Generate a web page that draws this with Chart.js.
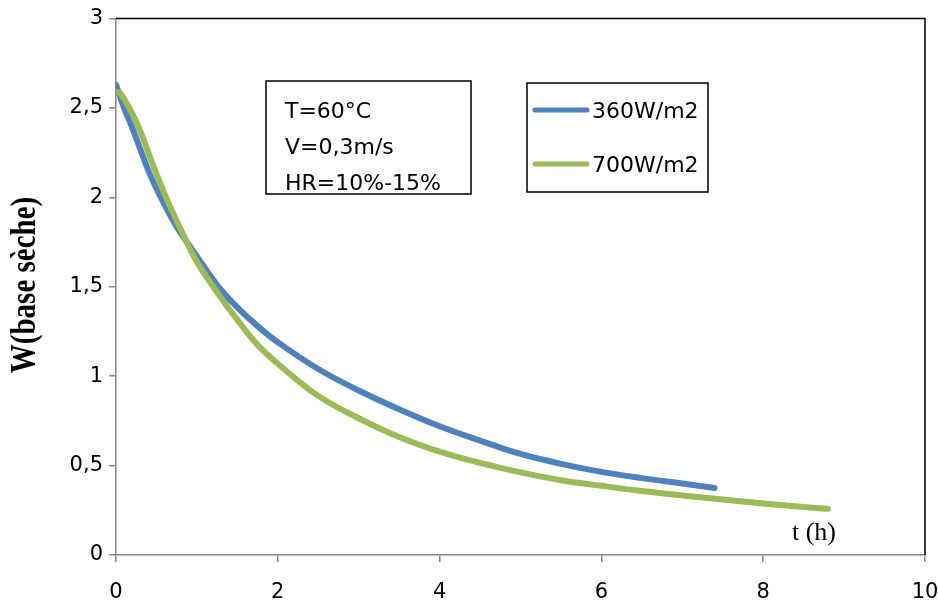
<!DOCTYPE html>
<html>
<head>
<meta charset="utf-8">
<script src="https://cdn.jsdelivr.net/npm/chart.js@4.4.0/dist/chart.umd.min.js"></script>
<style>
  body { margin: 0; background: #fff; }
  #wrap { width: 938px; height: 603px; }
</style>
</head>
<body>
<div id="wrap"><canvas id="dryingChart" width="938" height="603"></canvas></div>
<script>
// drying curves W(t)
const hours360 = [0, 0.1, 0.2, 0.3, 0.4, 0.5, 0.6, 0.7, 0.8, 0.9, 1.0, 1.25, 1.5, 1.75, 2, 2.5, 3, 3.5, 4, 4.5, 5, 5.5, 6, 6.5, 7, 7.4];
const w360 = [2.63, 2.50, 2.39, 2.27, 2.15, 2.05, 1.96, 1.875, 1.80, 1.735, 1.67, 1.51, 1.385, 1.28, 1.19, 1.04, 0.92, 0.815, 0.72, 0.64, 0.565, 0.51, 0.465, 0.43, 0.40, 0.375];

const hours700 = [0, 0.05, 0.1, 0.2, 0.3, 0.45, 0.6, 0.8, 1.0, 1.25, 1.5, 1.75, 2, 2.5, 3, 3.5, 4, 4.5, 5, 5.5, 6, 6.5, 7, 7.5, 8, 8.5, 8.8];
const w700 = [2.59, 2.582, 2.55, 2.47, 2.37, 2.19, 2.02, 1.82, 1.64, 1.47, 1.315, 1.175, 1.07, 0.89, 0.765, 0.66, 0.578, 0.515, 0.462, 0.418, 0.387, 0.358, 0.333, 0.31, 0.288, 0.268, 0.258];

const seriesLabels = ['360W/m2', '700W/m2'];
const conditions = ['T=60°C', 'V=0,3m/s', 'HR=10%-15%'];
const xTitle = 't (h)';
const yTitle = 'W(base sèche)';

const toPoints = (xs, ys) => xs.map((x, i) => ({ x, y: ys[i] }));

const sansFont = '"DejaVu Sans", sans-serif';
const serifFont = '"Liberation Serif", "DejaVu Serif", serif';

// frame, text box, legend and axis titles
const decorations = {
  id: 'decorations',
  afterDraw(chart) {
    const ctx = chart.ctx;
    const area = chart.chartArea;
    ctx.save();

    // black top / right edges
    ctx.strokeStyle = '#000';
    ctx.lineWidth = 1.5;
    ctx.beginPath();
    ctx.moveTo(area.left, area.top);
    ctx.lineTo(area.right, area.top);
    ctx.lineTo(area.right, area.bottom);
    ctx.stroke();

    // conditions box
    ctx.strokeRect(266, 81, 205, 113);
    ctx.fillStyle = '#000';
    ctx.font = '22px ' + sansFont;
    ctx.textBaseline = 'alphabetic';
    ctx.textAlign = 'left';
    conditions.forEach((t, i) => ctx.fillText(t, 285, 118 + i * 36));

    // legend
    ctx.strokeStyle = '#000';
    ctx.strokeRect(527, 83, 181, 109);
    chart.data.datasets.forEach((ds, i) => {
      const y = 110 + i * 54;
      ctx.strokeStyle = ds.borderColor;
      ctx.lineWidth = 5;
      ctx.lineCap = 'round';
      ctx.beginPath();
      ctx.moveTo(535, y);
      ctx.lineTo(587, y);
      ctx.stroke();
      ctx.fillStyle = '#000';
      ctx.fillText(ds.label, 592, y + 8);
    });

    // x title inside plot
    ctx.font = '26px ' + serifFont;
    ctx.textAlign = 'center';
    ctx.fillText(xTitle, 814, 540);

    // y title, rotated
    ctx.translate(35, 285);
    ctx.rotate(-Math.PI / 2);
    ctx.scale(1, 1.2);
    ctx.font = 'bold 29px ' + serifFont;
    ctx.fillText(yTitle, 0, 0);

    ctx.restore();
  }
};

new Chart(document.getElementById('dryingChart'), {
  type: 'line',
  data: {
    datasets: [
      {
        label: seriesLabels[0],
        data: toPoints(hours360, w360),
        borderColor: '#4F81BD',
        borderWidth: 6,
        pointRadius: 0,
        borderCapStyle: 'round',
        tension: 0.4,
        order: 2
      },
      {
        label: seriesLabels[1],
        data: toPoints(hours700, w700),
        borderColor: '#9BBB59',
        borderWidth: 6,
        pointRadius: 0,
        borderCapStyle: 'round',
        tension: 0.4,
        order: 1
      }
    ]
  },
  options: {
    responsive: false,
    animation: false,
    devicePixelRatio: 1,
    layout: { padding: { left: 0, top: 13, right: 13, bottom: 0 } },
    plugins: {
      legend: { display: false },
      tooltip: { enabled: false }
    },
    scales: {
      x: {
        type: 'linear',
        min: 0,
        max: 10,
        ticks: {
          stepSize: 2,
          color: '#000',
          font: { family: sansFont, size: 21 },
          padding: 18
        },
        grid: { drawOnChartArea: false, tickLength: 7, color: '#868686', lineWidth: 1.5 },
        border: { color: '#868686', width: 1.5 },
        afterFit: (s) => {
          s.height = 48;
          s.paddingLeft = 0;
          s.paddingRight = 0;
        }
      },
      y: {
        min: 0,
        max: 3,
        ticks: {
          stepSize: 0.5,
          color: '#000',
          font: { family: sansFont, size: 21 },
          padding: 6,
          callback: (v) => String(v).replace('.', ',')
        },
        grid: { drawOnChartArea: false, tickLength: 7, color: '#868686', lineWidth: 1.5 },
        border: { color: '#868686', width: 1.5 },
        afterFit: (s) => { s.width = 116; }
      }
    }
  },
  plugins: [decorations]
});
</script>
</body>
</html>
